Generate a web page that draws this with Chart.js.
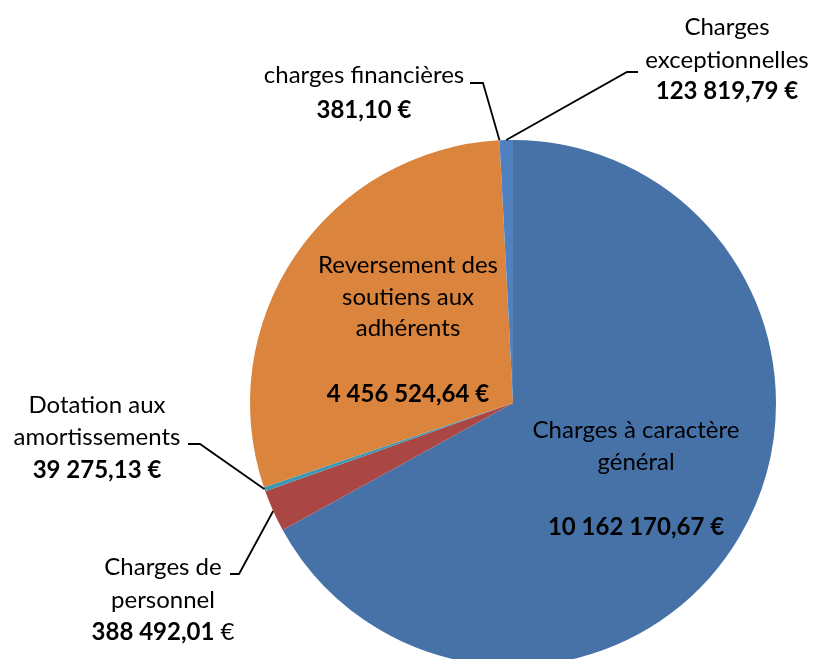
<!DOCTYPE html>
<html>
<head>
<meta charset="utf-8">
<script src="https://cdn.jsdelivr.net/npm/chart.js@4.4.0/dist/chart.umd.min.js"></script>
<style>
    html, body { margin: 0; padding: 0; background: #fff; overflow: hidden; }
    #wrap { position: absolute; left: 0; top: 0; width: 813px; height: 659px; overflow: hidden; }
</style>
</head>
<body>
<div id="wrap"><canvas id="chart" width="813" height="680"></canvas></div>
<script>
// Data
const categories = [
    'Charges à caractère général',
    'Charges de personnel',
    'Dotation aux amortissements',
    'Reversement des soutiens aux adhérents',
    'charges financières',
    'Charges exceptionnelles'
];
const amounts = [10162170.67, 388492.01, 39275.13, 4456524.64, 381.10, 123819.79];
const sliceColors = ['#4672A8', '#AA4643', '#3D98B4', '#DB843D', '#8AA650', '#4F81C0'];

// Label layout (text lines and where they sit), leader line elbows
const labelLayout = [
    { x: 636, lines: [[430, 'Charges à caractère'], [462, 'général']], valueY: 527 },
    { x: 163, lines: [[567, 'Charges de'], [600, 'personnel']], valueY: 632, plainEuro: true,
      leader: [[230, 574], [239, 574]] },
    { x: 97, lines: [[405, 'Dotation aux'], [437, 'amortissements']], valueY: 470,
      leader: [[188, 444], [200, 444]] },
    { x: 408, lines: [[265, 'Reversement des'], [297, 'soutiens aux'], [328, 'adhérents']], valueY: 394 },
    { x: 364, lines: [[75, 'charges financières']], valueY: 110,
      leader: [[470, 83], [483, 83]] },
    { x: 727, lines: [[27, 'Charges'], [60, 'exceptionnelles']], valueY: 91,
      leader: [[638, 72], [627, 72]] }
];

const FONT = 'Lato, "Open Sans", sans-serif';
const SIZE = 24;

function formatEuro(v) {
    const parts = v.toFixed(2).split('.');
    const intPart = parts[0].replace(/\B(?=(\d{3})+(?!\d))/g, ' ');
    return intPart + ',' + parts[1];
}

const labelPlugin = {
    id: 'pieLabels',
    afterDatasetsDraw(chart) {
        const ctx = chart.ctx;
        const arcs = chart.getDatasetMeta(0).data;
        const regular = SIZE + 'px ' + FONT;
        const bold = 'bold ' + SIZE + 'px ' + FONT;
        ctx.save();
        ctx.fillStyle = '#000';
        ctx.textBaseline = 'middle';
        labelLayout.forEach((lab, i) => {
            const arc = arcs[i];
            // leader line to the middle of the slice's outer edge
            if (lab.leader) {
                const mid = (arc.startAngle + arc.endAngle) / 2;
                const px = arc.x + Math.cos(mid) * arc.outerRadius;
                const py = arc.y + Math.sin(mid) * arc.outerRadius;
                ctx.strokeStyle = '#000';
                ctx.lineWidth = 1.8;
                ctx.beginPath();
                ctx.moveTo(lab.leader[0][0], lab.leader[0][1]);
                ctx.lineTo(lab.leader[1][0], lab.leader[1][1]);
                ctx.lineTo(px, py);
                ctx.stroke();
            }
            // category text
            ctx.textAlign = 'center';
            ctx.font = regular;
            lab.lines.forEach(l => ctx.fillText(l[1], lab.x, l[0]));
            // value text
            const num = formatEuro(amounts[i]);
            if (lab.plainEuro) {
                ctx.font = bold;
                const wNum = ctx.measureText(num).width;
                ctx.font = regular;
                const wEur = ctx.measureText(' €').width;
                const left = lab.x - (wNum + wEur) / 2;
                ctx.textAlign = 'left';
                ctx.font = bold;
                ctx.fillText(num, left, lab.valueY);
                ctx.font = regular;
                ctx.fillText(' €', left + wNum, lab.valueY);
            } else {
                ctx.font = bold;
                ctx.fillText(num + ' €', lab.x, lab.valueY);
            }
        });
        ctx.restore();
    }
};

new Chart(document.getElementById('chart'), {
    type: 'pie',
    data: {
        labels: categories,
        datasets: [{
            data: amounts,
            backgroundColor: sliceColors,
            borderWidth: 0
        }]
    },
    options: {
        responsive: false,
        animation: false,
        layout: { padding: { left: 250, right: 37, top: 140, bottom: 14 } },
        plugins: {
            legend: { display: false },
            tooltip: { enabled: false }
        }
    },
    plugins: [labelPlugin]
});
</script>
</body>
</html>
